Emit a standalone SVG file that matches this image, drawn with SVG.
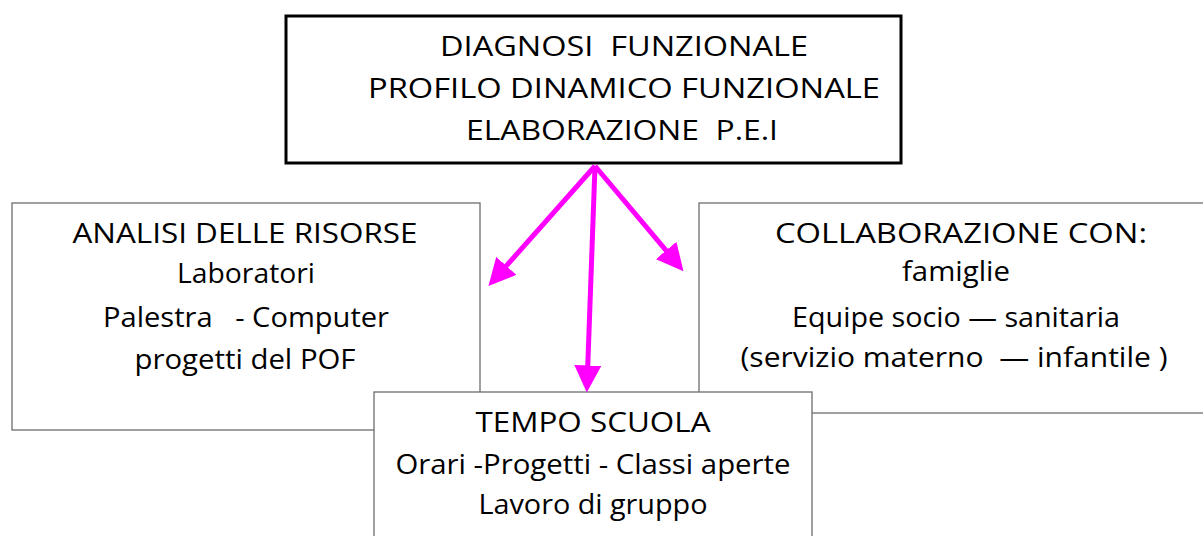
<svg xmlns="http://www.w3.org/2000/svg" width="1203" height="536" viewBox="0 0 1203 536">
<style>
text{font-family:"Open Sans","Liberation Sans",sans-serif;font-size:28px;fill:#000;text-anchor:middle;white-space:pre}
.box{fill:#fff;stroke:#6e6e6e;stroke-width:1.3}
.main{fill:#fff;stroke:#000;stroke-width:3}
.arr{stroke:#ff00ff;stroke-width:5;fill:none;marker-end:url(#ah)}
</style>
<defs>
<marker id="ah" viewBox="0 0 10 10" refX="8" refY="5" markerWidth="5.4" markerHeight="5.4" orient="auto" markerUnits="strokeWidth">
<path d="M0,0 L10,5 L0,10 z" fill="#ff00ff"/>
</marker>
</defs>
<rect width="1203" height="536" fill="#fff"/>
<g id="analisi">
<rect class="box" x="12" y="203" width="468" height="227"/>
<text x="245" y="243" textLength="345" lengthAdjust="spacingAndGlyphs">ANALISI DELLE RISORSE</text>
<text x="246" y="283" textLength="138" lengthAdjust="spacingAndGlyphs">Laboratori</text>
<text x="246" y="327" textLength="286" lengthAdjust="spacingAndGlyphs">Palestra   - Computer</text>
<text x="245" y="369" textLength="221" lengthAdjust="spacingAndGlyphs">progetti del POF</text>
</g>
<g id="collaborazione">
<rect class="box" x="699" y="203" width="510" height="210"/>
<text x="961" y="243" textLength="372" lengthAdjust="spacingAndGlyphs">COLLABORAZIONE CON:</text>
<text x="956" y="281" textLength="108" lengthAdjust="spacingAndGlyphs">famiglie</text>
<text x="956" y="327" textLength="328" lengthAdjust="spacingAndGlyphs">Equipe socio — sanitaria</text>
<text x="954" y="367" textLength="427" lengthAdjust="spacingAndGlyphs">(servizio materno  — infantile )</text>
</g>
<g id="tempo">
<rect class="box" x="374" y="392" width="438" height="150"/>
<text x="593" y="432" textLength="235" lengthAdjust="spacingAndGlyphs">TEMPO SCUOLA</text>
<text x="593" y="474" textLength="395" lengthAdjust="spacingAndGlyphs">Orari -Progetti - Classi aperte</text>
<text x="593" y="514" textLength="229" lengthAdjust="spacingAndGlyphs">Lavoro di gruppo</text>
</g>
<g id="diagnosi">
<rect class="main" x="286" y="16" width="615" height="147"/>
<text x="624" y="56" textLength="368" lengthAdjust="spacingAndGlyphs">DIAGNOSI  FUNZIONALE</text>
<text x="624" y="98" textLength="512" lengthAdjust="spacingAndGlyphs">PROFILO DINAMICO FUNZIONALE</text>
<text x="622" y="140" textLength="312" lengthAdjust="spacingAndGlyphs">ELABORAZIONE  P.E.I</text>
</g>
<g id="connectors">
<line class="arr" x1="595" y1="166" x2="492" y2="282"/>
<line class="arr" x1="595" y1="166" x2="587" y2="387"/>
<line class="arr" x1="595" y1="166" x2="680" y2="267"/>
</g>
</svg>
